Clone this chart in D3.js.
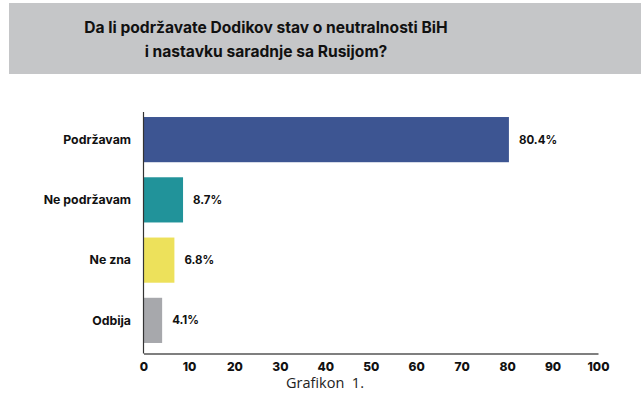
<!DOCTYPE html>
<html>
<head>
<meta charset="utf-8">
<script src="https://cdn.jsdelivr.net/npm/d3@7"></script>
<style>
  body { margin: 0; background: #fff; }
  text { font-family: Inter, "Noto Sans", sans-serif; }
</style>
</head>
<body>
<script>
'use strict';

const categories = ["Podržavam", "Ne podržavam", "Ne zna", "Odbija"];
const values = [80.4, 8.7, 6.8, 4.1];
const barColors = ["#3d5592", "#21939a", "#ede15b", "#a7a8ac"];
const ticks = [0, 10, 20, 30, 40, 50, 60, 70, 80, 90, 100];
const titleLines = ["Da li podržavate Dodikov stav o neutralnosti BiH", "i nastavku saradnje sa Rusijom?"];
const caption = "Grafikon  1.";

const width = 641, height = 397;

const svg = d3.select("body").append("svg")
  .attr("width", width)
  .attr("height", height);

// title box
svg.append("rect")
  .attr("x", 9).attr("y", 3)
  .attr("width", width - 9).attr("height", 71)
  .attr("fill", "#c5c6c8");

svg.selectAll(".title")
  .data(titleLines)
  .enter()
  .append("text")
  .attr("class", "title")
  .attr("x", 266)
  .attr("y", (d, i) => 33 + i * 24)
  .attr("text-anchor", "middle")
  .style("font-size", "15.6px")
  .style("font-weight", "700")
  .attr("fill", "#111")
  .text(d => d);

const xScale = d3.scaleLinear().domain([0, 100]).range([143.5, 598]);
const yScale = d3.scaleBand().domain(categories).range([111, 349]).paddingInner(0.25).paddingOuter(0.1);

// bars
svg.selectAll(".bar")
  .data(values)
  .enter()
  .append("rect")
  .attr("class", "bar")
  .attr("x", xScale(0))
  .attr("y", (d, i) => yScale(categories[i]))
  .attr("width", d => xScale(d) - xScale(0))
  .attr("height", yScale.bandwidth())
  .attr("fill", (d, i) => barColors[i]);

// value labels
svg.selectAll(".val")
  .data(values)
  .enter()
  .append("text")
  .attr("class", "val")
  .attr("x", d => xScale(d) + 10)
  .attr("y", (d, i) => yScale(categories[i]) + yScale.bandwidth() / 2)
  .attr("dy", "0.35em")
  .style("font-size", "11.5px")
  .style("font-weight", "700")
  .attr("fill", "#111")
  .text(d => d.toFixed(1) + "%");

// category labels
svg.selectAll(".cat")
  .data(categories)
  .enter()
  .append("text")
  .attr("class", "cat")
  .attr("x", 131)
  .attr("y", d => yScale(d) + yScale.bandwidth() / 2)
  .attr("dy", "0.35em")
  .attr("text-anchor", "end")
  .style("font-size", "12.3px")
  .style("font-weight", "700")
  .attr("fill", "#111")
  .text(d => d);

// axes
const xAxis = d3.axisBottom(xScale).tickValues(ticks).tickSize(0).tickPadding(9);
const gx = svg.append("g")
  .attr("transform", "translate(0,353.5)")
  .call(xAxis);
gx.select(".domain").attr("stroke", "#555").attr("stroke-width", 1.5);
gx.selectAll("text")
  .style("font-size", "12px")
  .style("font-weight", "800")
  .style("font-family", "Inter, sans-serif")
  .attr("fill", "#111");

svg.append("line")
  .attr("x1", xScale(0)).attr("x2", xScale(0))
  .attr("y1", 112).attr("y2", 353.5)
  .attr("stroke", "#333").attr("stroke-width", 1.2);

// caption
svg.append("text")
  .attr("x", 325)
  .attr("y", 388)
  .attr("text-anchor", "middle")
  .style("font-family", "'Open Sans', sans-serif")
  .style("font-size", "14.5px")
  .style("white-space", "pre")
  .attr("fill", "#222")
  .text(caption);
</script>
</body>
</html>
